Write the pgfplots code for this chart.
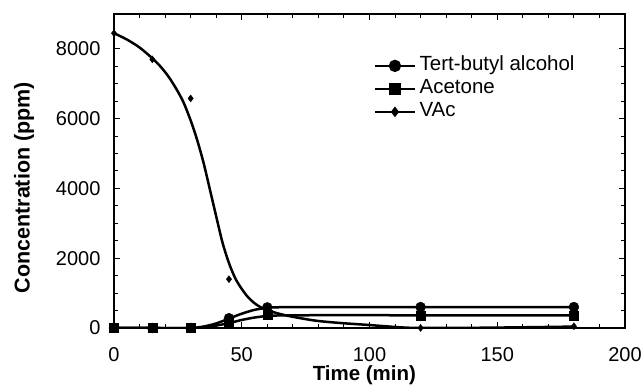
\documentclass[border=0pt]{standalone}
\usepackage{pgfplots}
\pgfplotsset{compat=1.18}
\usepackage{fontspec}
\setmainfont{Liberation Sans}
\begin{document}
\begin{tikzpicture}
\begin{axis}[
  name=ax,
  scale only axis,
  width=511pt, height=314pt,
  xmin=0, xmax=200, ymin=0, ymax=9000,
  xtick={0,50,100,150,200},
  ytick={0,2000,4000,6000,8000},
  minor x tick num=4,
  minor y tick num=3,
  tick align=inside,
  major tick length=6pt,
  minor tick length=4pt,
  axis line style={line width=1.5pt},
  every tick/.style={black, line width=1pt},
  tick label style={font=\fontsize{20}{24}\selectfont},
  /pgf/number format/assume math mode=true,
  /pgf/number format/set thousands separator={},
  xticklabel style={inner sep=0pt, yshift=-19pt},
  yticklabel style={xshift=-10pt},
  xlabel={\bfseries Time (min)},
  ylabel={\bfseries Concentration (ppm)},
  xlabel style={font=\fontsize{20.5}{24}\selectfont, inner sep=0pt, at={(axis description cs:0.49,0)}, anchor=north, yshift=-37pt},
  ylabel style={font=\fontsize{21.5}{24}\selectfont, at={(axis description cs:-0.176,0.447)}, anchor=center},
  legend style={draw=none, fill=none, at={(axis description cs:0.508,0.872)}, anchor=north west,
    inner sep=0pt, font=\fontsize{20.5}{24}\selectfont,
    nodes={inner sep=1.5pt, text height=15pt, text depth=5pt},
    column sep=2pt},
  legend cell align=left,
  legend image code/.code={\draw[mark repeat=2,mark phase=2,#1] plot coordinates {(0pt,0pt)(20pt,0pt)(40pt,0pt)};},
]
% legend images
\addlegendimage{black, line width=2.3pt, mark=*, mark size=5pt, mark options={solid}}
\addlegendentry{Tert-butyl alcohol}
\addlegendimage{black, line width=2.3pt, mark=square*, mark size=4.5pt}
\addlegendentry{Acetone}
\addlegendimage{black, line width=2.3pt, mark=diamond*, mark size=3.5pt}
\addlegendentry{VAc}

% fitted curves
\addplot[black, line width=2.5pt, smooth, tension=0.5, forget plot] coordinates {
(0,8450)(5,8270)(10,8040)(15,7730)(18,7510)(21,7240)(24,6900)(27,6500)(30,5950)(32.5,5400)(35,4750)(37.5,3980)(40,3200)(42.5,2440)(45,1860)(47.5,1420)(50,1120)(52.5,880)(55,710)(57.5,590)(60,510)(64,420)(68,350)(73,280)(80,200)(90,135)(99,90)(107,45)(113,15)(120,0)(140,5)(160,20)(180,40)};
\addplot[black, line width=2.5pt, smooth, tension=0.4, forget plot] coordinates {
(0,0)(15,0)(30,0)(35,40)(40,130)(45,270)(50,410)(55,520)(60,580)(65,595)(75,595)(120,595)(180,595)};
\addplot[black, line width=2.5pt, smooth, tension=0.4, forget plot] coordinates {
(0,0)(15,0)(30,0)(35,25)(40,70)(45,140)(50,230)(55,300)(60,345)(65,360)(75,365)(120,365)(180,365)};

% data points
\addplot[only marks, mark=diamond*, mark size=3.5pt, black, forget plot] coordinates {
(0,8450)(15,7700)(30,6580)(45,1400)(60,470)(120,0)(180,50)};
\addplot[only marks, mark=*, mark size=5pt, black, forget plot] coordinates {
(0,0)(15,0)(30,0)(45,280)(60,590)(120,600)(180,600)};
\addplot[only marks, mark=square*, mark size=4.5pt, black, forget plot] coordinates {
(0,0)(15,0)(30,0)(45,140)(60,370)(120,350)(180,350)};
\end{axis}
\path ([xshift=-114pt,yshift=-54pt]ax.south west) rectangle ([xshift=18pt,yshift=14pt]ax.north east);
\end{tikzpicture}
\end{document}
